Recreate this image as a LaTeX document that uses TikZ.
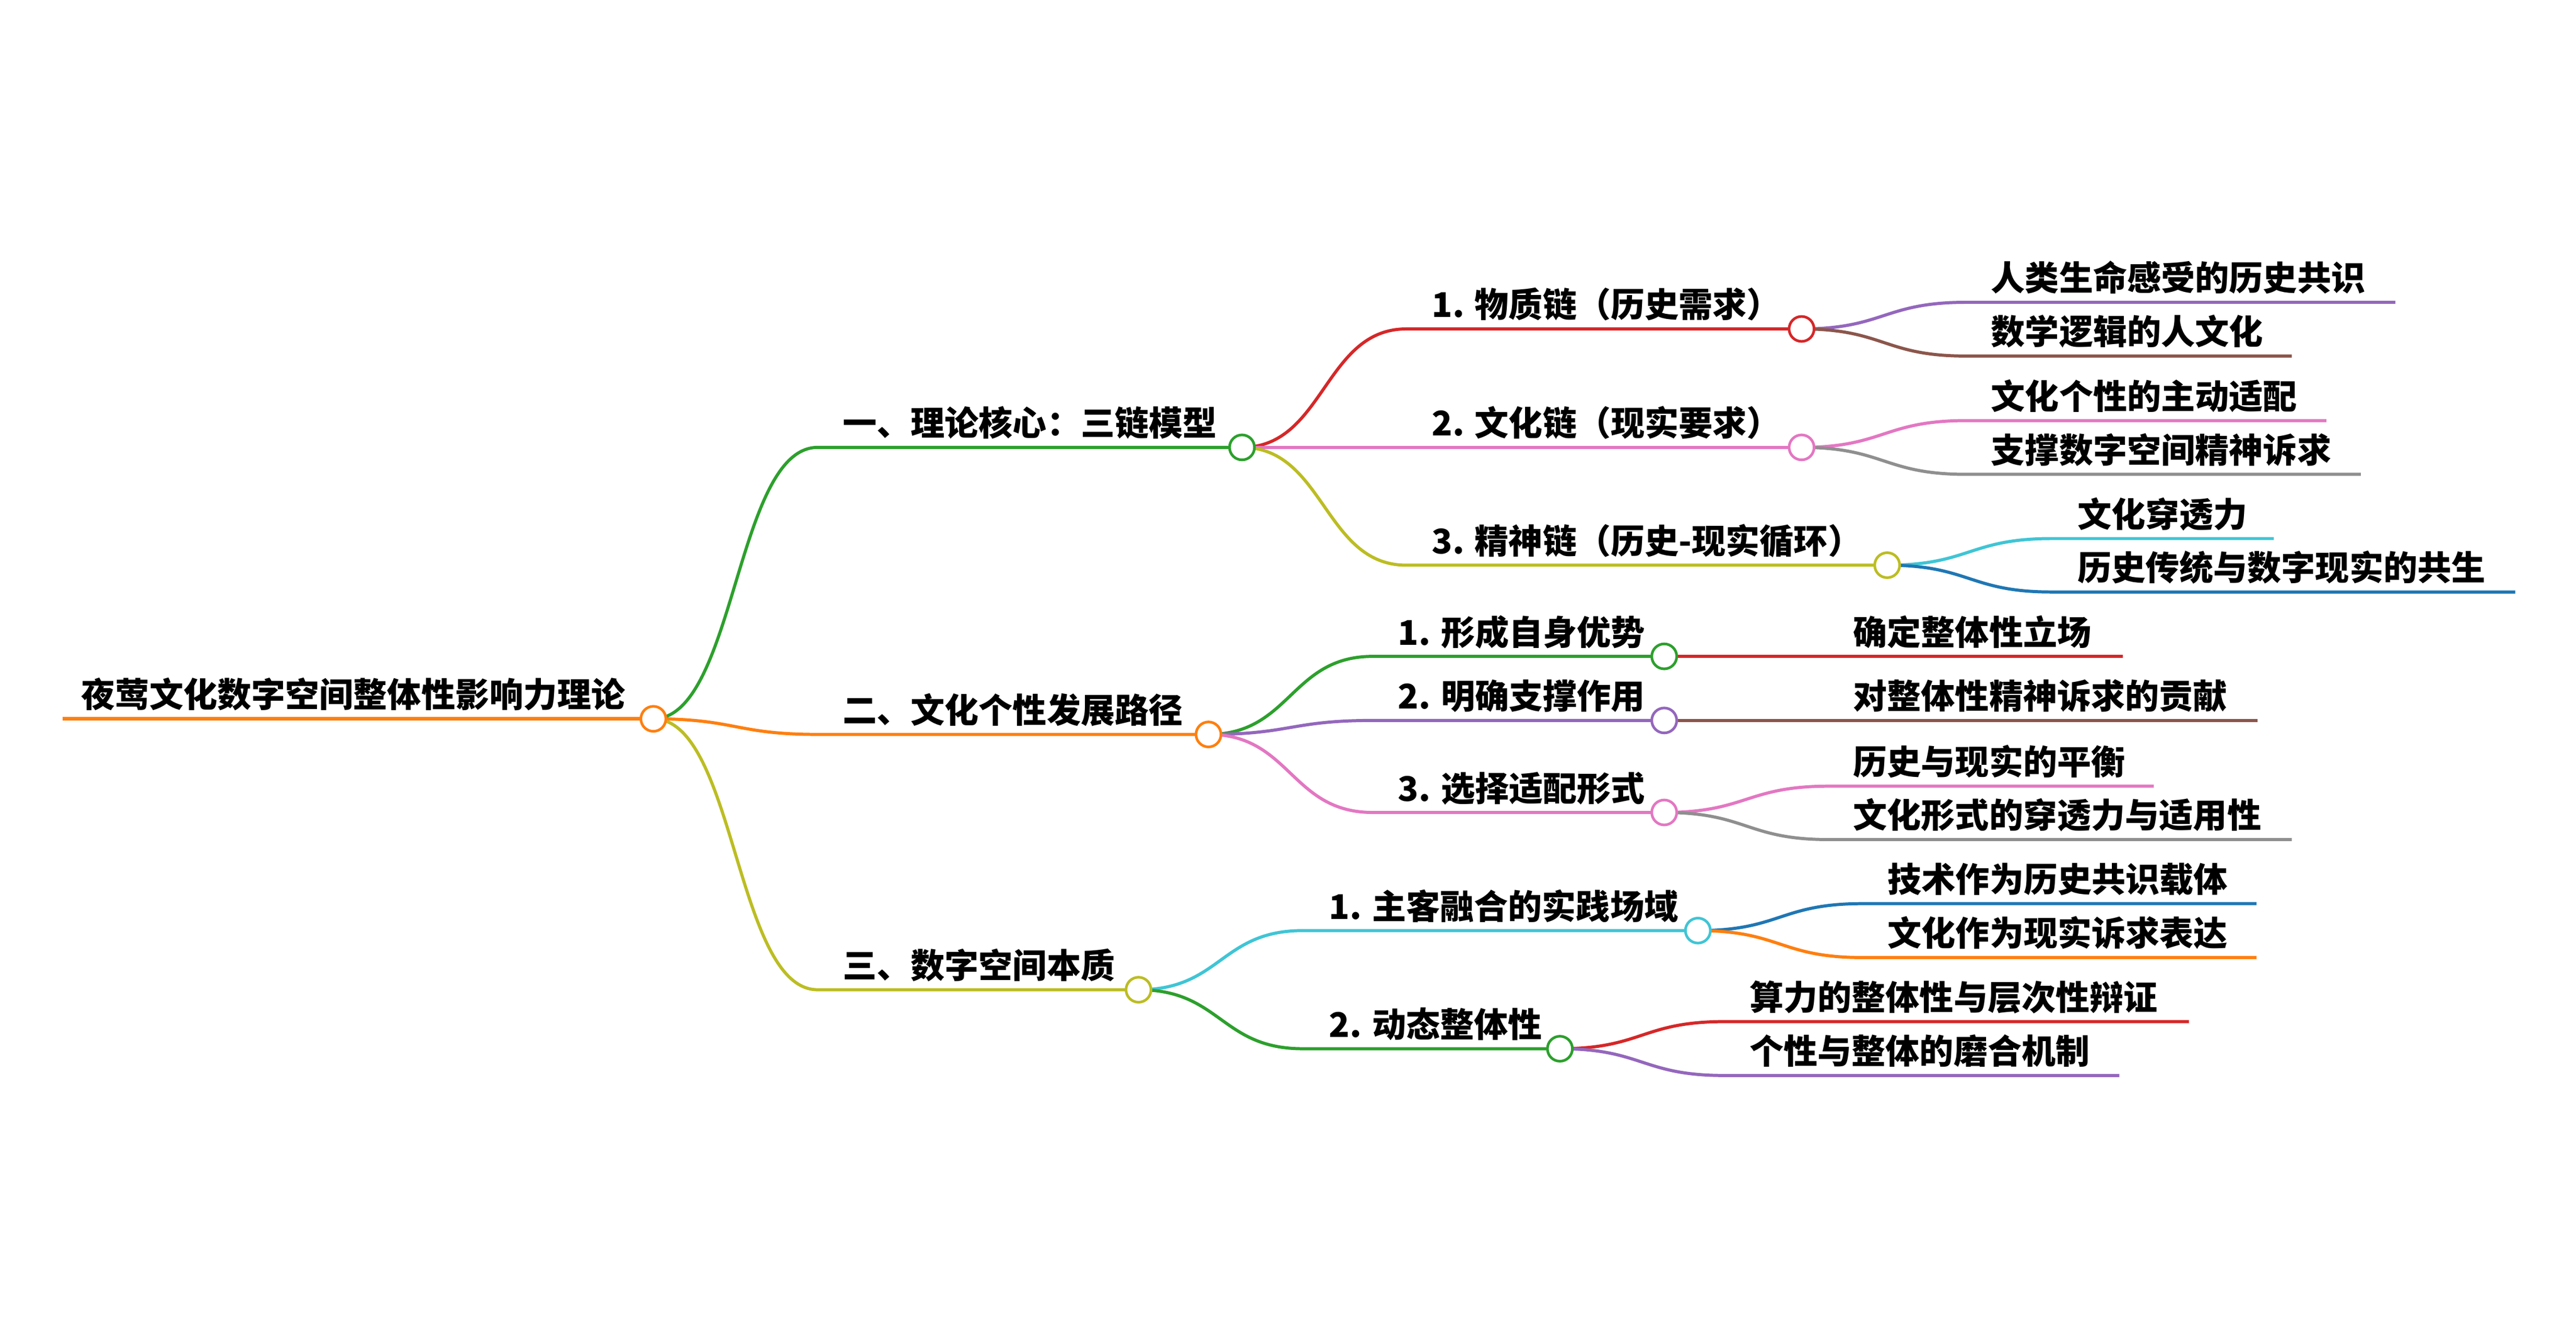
\documentclass[tikz,border=0pt]{standalone}
\usepackage{fontspec}
\setmainfont{Noto Sans CJK SC}
\definecolor{mOrange}{HTML}{FF7F0E}
\definecolor{mGreen}{HTML}{2CA02C}
\definecolor{mRed}{HTML}{D62728}
\definecolor{mPurple}{HTML}{9467BD}
\definecolor{mBrown}{HTML}{8C564B}
\definecolor{mPink}{HTML}{E377C2}
\definecolor{mGray}{HTML}{8F8F8F}
\definecolor{mOlive}{HTML}{BCBD22}
\definecolor{mCyan}{HTML}{3FC5D5}
\definecolor{mBlue}{HTML}{1F77B4}
\tikzset{
  lbl/.style={anchor=base west, inner sep=0pt, outer sep=0pt, text=black,
    font=\bfseries\fontsize{20.7}{24}\selectfont},
  link/.style={draw=#1, line width=1.9pt, line cap=butt},
  knob/.style={circle, draw=#1, fill=white, line width=1.6pt, minimum size=15.2pt, inner sep=0pt, outer sep=0pt},
}
\newcommand{\kid}[3]{.. controls +(50,0) and +(-50,0) .. (#1) -- (#2)}
\begin{document}
\begin{tikzpicture}[x=1pt,y=-1pt]
\useasboundingbox (0,0) rectangle (1568,811.3);
% ---------- coordinates ----------
\coordinate (r0) at (38,437.5);
\coordinate (p0) at (397.7,437.5);
% level 1
\coordinate (s1) at (497.7,272.3);  \coordinate (p1) at (756,272.3);
\coordinate (s2) at (497.7,447);    \coordinate (p2) at (735.6,447);
\coordinate (s3) at (497.7,602.4);  \coordinate (p3) at (693,602.4);
% level 2 under 1
\coordinate (s11) at (856,200.2);   \coordinate (p11) at (1096.6,200.2);
\coordinate (s12) at (856,272.3);   \coordinate (p12) at (1096.6,272.3);
\coordinate (s13) at (856,344);     \coordinate (p13) at (1148.7,344);
% level 3 under 1.x
\coordinate (s111) at (1196.6,184);   \coordinate (e111) at (1458,184);
\coordinate (s112) at (1196.6,216.7); \coordinate (e112) at (1395,216.7);
\coordinate (s121) at (1196.6,256);   \coordinate (e121) at (1416,256);
\coordinate (s122) at (1196.6,288.7); \coordinate (e122) at (1437,288.7);
\coordinate (s131) at (1248.7,327.8); \coordinate (e131) at (1384,327.8);
\coordinate (s132) at (1248.7,360.3); \coordinate (e132) at (1531,360.3);
% level 2 under 2
\coordinate (s21) at (835.6,399.5); \coordinate (p21) at (1013,399.5);
\coordinate (s22) at (835.6,438.5); \coordinate (p22) at (1013,438.5);
\coordinate (s23) at (835.6,494.5); \coordinate (p23) at (1013,494.5);
\coordinate (s211) at (1113,399.5); \coordinate (e211) at (1292,399.5);
\coordinate (s221) at (1113,438.5); \coordinate (e221) at (1374,438.5);
\coordinate (s231) at (1113,478.5); \coordinate (e231) at (1311,478.5);
\coordinate (s232) at (1113,511);   \coordinate (e232) at (1395,511);
% level 2 under 3
\coordinate (s31) at (793,566.4);   \coordinate (p31) at (1033.5,566.4);
\coordinate (s32) at (793,638.3);   \coordinate (p32) at (949.5,638.3);
\coordinate (s311) at (1133.5,550); \coordinate (e311) at (1373.5,550);
\coordinate (s312) at (1133.5,582.8); \coordinate (e312) at (1373.5,582.8);
\coordinate (s321) at (1049.5,621.8); \coordinate (e321) at (1332.4,621.8);
\coordinate (s322) at (1049.5,654.6); \coordinate (e322) at (1290,654.6);
% ---------- connectors ----------
\draw[link=mOrange, line width=2.2pt] (r0) -- (p0);
\draw[link=mGreen]  (p0) \kid{s1}{p1}{};
\draw[link=mOrange] (p0) \kid{s2}{p2}{};
\draw[link=mOlive]  (p0) \kid{s3}{p3}{};
\draw[link=mRed]    (p1) \kid{s11}{p11}{};
\draw[link=mPink]   (p1) \kid{s12}{p12}{};
\draw[link=mOlive]  (p1) \kid{s13}{p13}{};
\draw[link=mPurple] (p11) \kid{s111}{e111}{};
\draw[link=mBrown]  (p11) \kid{s112}{e112}{};
\draw[link=mPink]   (p12) \kid{s121}{e121}{};
\draw[link=mGray]   (p12) \kid{s122}{e122}{};
\draw[link=mCyan]   (p13) \kid{s131}{e131}{};
\draw[link=mBlue]   (p13) \kid{s132}{e132}{};
\draw[link=mGreen]  (p2) \kid{s21}{p21}{};
\draw[link=mPurple] (p2) \kid{s22}{p22}{};
\draw[link=mPink]   (p2) \kid{s23}{p23}{};
\draw[link=mRed]    (p21) \kid{s211}{e211}{};
\draw[link=mBrown]  (p22) \kid{s221}{e221}{};
\draw[link=mPink]   (p23) \kid{s231}{e231}{};
\draw[link=mGray]   (p23) \kid{s232}{e232}{};
\draw[link=mCyan]   (p3) \kid{s31}{p31}{};
\draw[link=mGreen]  (p3) \kid{s32}{p32}{};
\draw[link=mBlue]   (p31) \kid{s311}{e311}{};
\draw[link=mOrange] (p31) \kid{s312}{e312}{};
\draw[link=mRed]    (p32) \kid{s321}{e321}{};
\draw[link=mPurple] (p32) \kid{s322}{e322}{};
% ---------- circles ----------
\node[knob=mOrange] (c0) at (p0) {};
\node[knob=mGreen]  (c1) at (p1) {};
\node[knob=mOrange] (c2) at (p2) {};
\node[knob=mOlive]  (c3) at (p3) {};
\node[knob=mRed]    (c11) at (p11) {};
\node[knob=mPink]   (c12) at (p12) {};
\node[knob=mOlive]  (c13) at (p13) {};
\node[knob=mGreen]  (c21) at (p21) {};
\node[knob=mPurple] (c22) at (p22) {};
\node[knob=mPink]   (c23) at (p23) {};
\node[knob=mCyan]   (c31) at (p31) {};
\node[knob=mGreen]  (c32) at (p32) {};
% ---------- labels ----------
\node[lbl] (t0) at (49.5,430.5) {夜莺文化数字空间整体性影响力理论};
\node[lbl] (t1) at (513,265.3) {一、理论核心：三链模型};
\node[lbl] (t2) at (513,440) {二、文化个性发展路径};
\node[lbl] (t3) at (513,595.4) {三、数字空间本质};
\node[lbl] (t11) at (871.5,193.2) {1. 物质链（历史需求）};
\node[lbl] (t12) at (871.5,265.3) {2. 文化链（现实要求）};
\node[lbl] (t13) at (871.5,337) {3. 精神链（历史-现实循环）};
\node[lbl] (t111) at (1212,177) {人类生命感受的历史共识};
\node[lbl] (t112) at (1212,209.7) {数学逻辑的人文化};
\node[lbl] (t121) at (1212,249) {文化个性的主动适配};
\node[lbl] (t122) at (1212,281.7) {支撑数字空间精神诉求};
\node[lbl] (t131) at (1264.5,320.8) {文化穿透力};
\node[lbl] (t132) at (1264.5,353.3) {历史传统与数字现实的共生};
\node[lbl] (t21) at (851,392.5) {1. 形成自身优势};
\node[lbl] (t22) at (851,431.5) {2. 明确支撑作用};
\node[lbl] (t23) at (851,487.5) {3. 选择适配形式};
\node[lbl] (t211) at (1128,392.5) {确定整体性立场};
\node[lbl] (t221) at (1128,431.5) {对整体性精神诉求的贡献};
\node[lbl] (t231) at (1128,471.5) {历史与现实的平衡};
\node[lbl] (t232) at (1128,504) {文化形式的穿透力与适用性};
\node[lbl] (t31) at (809,559.4) {1. 主客融合的实践场域};
\node[lbl] (t32) at (809,631.3) {2. 动态整体性};
\node[lbl] (t311) at (1149,543) {技术作为历史共识载体};
\node[lbl] (t312) at (1149,575.8) {文化作为现实诉求表达};
\node[lbl] (t321) at (1065,614.8) {算力的整体性与层次性辩证};
\node[lbl] (t322) at (1065,647.6) {个性与整体的磨合机制};
\end{tikzpicture}
\end{document}
